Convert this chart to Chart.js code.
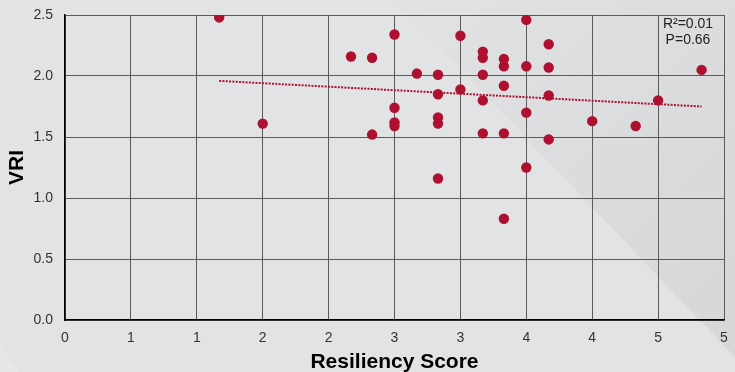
<!DOCTYPE html>
<html>
<head>
<meta charset="utf-8">
<script src="https://cdn.jsdelivr.net/npm/chart.js@4"></script>
<style>
  html, body { margin: 0; padding: 0; background: #e2e3e5; }
  #wrap { width: 735px; height: 372px; position: relative; }
</style>
</head>
<body>
<div id="wrap"><canvas id="c" width="735" height="372"></canvas></div>
<script>
const resiliencyScores = [1.17, 1.5, 2.17, 2.33, 2.33, 2.5, 2.5, 2.5, 2.5, 2.67, 2.83, 2.83, 2.83, 2.83, 2.83, 3.0, 3.0, 3.17, 3.17, 3.17, 3.17, 3.17, 3.33, 3.33, 3.33, 3.33, 3.33, 3.5, 3.5, 3.5, 3.5, 3.67, 3.67, 3.67, 3.67, 4.0, 4.33, 4.5, 4.83];
const vriValues = [2.48, 1.61, 2.16, 2.15, 1.52, 2.34, 1.74, 1.62, 1.59, 2.02, 2.01, 1.85, 1.66, 1.61, 1.16, 2.33, 1.89, 2.20, 2.15, 2.01, 1.80, 1.53, 2.14, 2.08, 1.92, 1.53, 0.83, 2.46, 2.08, 1.70, 1.25, 2.26, 2.07, 1.84, 1.48, 1.63, 1.59, 1.80, 2.05];
const trendX = [1.17, 4.83];
const trendY = [1.96, 1.75];
const xTickLabels = ['0', '1', '1', '2', '2', '3', '3', '4', '4', '5', '5'];
const yTickLabels = ['0.0', '0.5', '1.0', '1.5', '2.0', '2.5'];
const statLines = ['R\u00b2=0.01', 'P=0.66'];
const xTitle = 'Resiliency Score';
const yTitle = 'VRI';

const red = '#ae1030';
const fontFam = '"Liberation Sans", Arial, sans-serif';

const bgPlugin = {
  id: 'bg',
  beforeDraw(chart) {
    const ctx = chart.ctx;
    const w = chart.width, h = chart.height;
    ctx.save();
    ctx.fillStyle = '#e2e3e5';
    ctx.fillRect(0, 0, w, h);
    const g = ctx.createLinearGradient(w * 0.55, 0, w, h * 0.9);
    g.addColorStop(0, '#e1e2e4');
    g.addColorStop(1, '#d6d7d9');
    ctx.fillStyle = g;
    ctx.beginPath();
    ctx.moveTo(w * 0.536, 0);
    ctx.lineTo(w, 0);
    ctx.lineTo(w, h * 0.96);
    ctx.closePath();
    ctx.fill();
    ctx.fillStyle = '#e6e7e9';
    ctx.beginPath();
    ctx.moveTo(0, h * 0.91);
    ctx.quadraticCurveTo(w * 0.01, h * 0.97, w * 0.025, h);
    ctx.lineTo(0, h);
    ctx.closePath();
    ctx.fill();
    ctx.restore();
  }
};

const statPlugin = {
  id: 'stat',
  afterDatasetsDraw(chart) {
    const ctx = chart.ctx;
    const a = chart.chartArea;
    ctx.save();
    ctx.fillStyle = '#222222';
    ctx.font = '14px ' + fontFam;
    ctx.textAlign = 'center';
    ctx.textBaseline = 'middle';
    statLines.forEach((t, i) => {
      ctx.fillText(t, a.right - 36, a.top + 9 + i * 16.5);
    });
    ctx.restore();
  }
};

const scatterData = resiliencyScores.map((x, i) => ({ x: x, y: vriValues[i] }));
const trendData = trendX.map((x, i) => ({ x: x, y: trendY[i] }));

new Chart(document.getElementById('c'), {
  type: 'scatter',
  data: {
    datasets: [
      {
        type: 'line',
        data: trendData,
        borderColor: red,
        borderWidth: 2,
        borderDash: [2, 1.3],
        pointRadius: 0,
        fill: false,
        order: 2
      },
      {
        data: scatterData,
        backgroundColor: red,
        borderColor: red,
        borderWidth: 0,
        pointRadius: 5.2,
        order: 1
      }
    ]
  },
  options: {
    responsive: false,
    animation: false,
    devicePixelRatio: 1,
    layout: { padding: { top: 15, right: 11, left: 0, bottom: 0 } },
    plugins: {
      legend: { display: false },
      tooltip: { enabled: false }
    },
    scales: {
      x: {
        type: 'linear',
        min: 0,
        max: 5,
        afterFit(s) { s.height = 52; s.paddingLeft = 0; s.paddingRight = 0; },
        ticks: {
          stepSize: 0.5,
          padding: 10,
          color: '#333333',
          font: { family: fontFam, size: 14 },
          callback: (v, i) => xTickLabels[i]
        },
        grid: { color: '#5a5a5a', lineWidth: 1, drawTicks: false },
        border: { color: '#000000', width: 1.5 },
        title: {
          display: true,
          text: xTitle,
          color: '#000000',
          font: { family: fontFam, size: 21, weight: 'bold' },
          padding: { top: 0, bottom: -3 }
        }
      },
      y: {
        type: 'linear',
        min: 0,
        max: 2.5,
        afterFit(s) { s.width = 65; s.paddingTop = 0; s.paddingBottom = 0; },
        ticks: {
          stepSize: 0.5,
          padding: 12,
          color: '#333333',
          font: { family: fontFam, size: 14 },
          callback: (v, i) => yTickLabels[i]
        },
        grid: { color: '#5a5a5a', lineWidth: 1, drawTicks: false },
        border: { color: '#000000', width: 1.5 },
        title: {
          display: true,
          text: yTitle,
          color: '#000000',
          font: { family: fontFam, size: 21, weight: 'bold' },
          padding: { top: 5, bottom: 0 }
        }
      }
    }
  },
  plugins: [bgPlugin, statPlugin]
});
</script>
</body>
</html>
